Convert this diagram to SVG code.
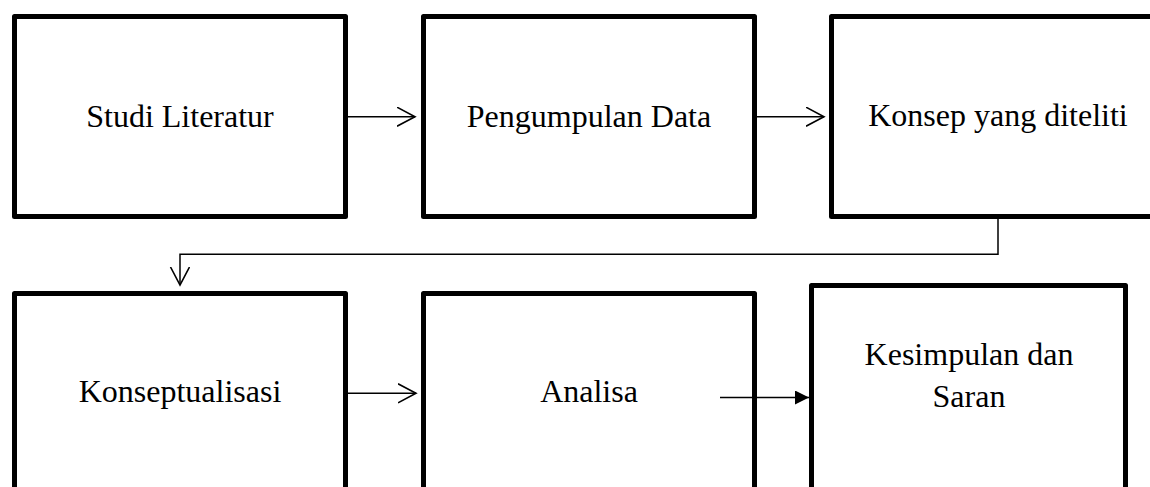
<svg xmlns="http://www.w3.org/2000/svg" width="1150" height="487" viewBox="0 0 1150 487">
  <style>
    .box { fill: #fff; stroke: #000; stroke-width: 5; stroke-linejoin: round; }
    .lbl { font-family: "Liberation Serif", "Times New Roman", serif; font-size: 32px; fill: #000; text-anchor: middle; }
    .conn { fill: none; stroke: #000; stroke-width: 1.5; }
  </style>
  <defs>
    <marker id="open" markerUnits="userSpaceOnUse" markerWidth="22" markerHeight="22" refX="18" refY="10" orient="auto" viewBox="0 0 22 22">
      <path d="M0,0.5 L18,10 L0,19.5" fill="none" stroke="#000" stroke-width="1.6"/>
    </marker>
    <marker id="solid" markerUnits="userSpaceOnUse" markerWidth="16" markerHeight="16" refX="14" refY="7" orient="auto" viewBox="0 0 16 16">
      <path d="M0,0 L14,7 L0,14 Z" fill="#000"/>
    </marker>
  </defs>
  <rect width="1150" height="487" fill="#fff"/>

  <g id="node-studi-literatur">
    <rect class="box" x="14.5" y="16.5" width="331" height="200"/>
    <text class="lbl" x="180" y="126.5">Studi Literatur</text>
  </g>
  <g id="node-pengumpulan-data">
    <rect class="box" x="423.5" y="16.5" width="331" height="200"/>
    <text class="lbl" x="589" y="126.5">Pengumpulan Data</text>
  </g>
  <g id="node-konsep">
    <rect class="box" x="831.5" y="16.5" width="400" height="200"/>
    <text class="lbl" x="998" y="125.5">Konsep yang diteliti</text>
  </g>
  <g id="node-konseptualisasi">
    <rect class="box" x="14.5" y="293.5" width="331" height="250"/>
    <text class="lbl" x="180" y="402">Konseptualisasi</text>
  </g>
  <g id="node-analisa">
    <rect class="box" x="423.5" y="293.5" width="331" height="250"/>
    <text class="lbl" x="589" y="402">Analisa</text>
  </g>
  <g id="node-kesimpulan">
    <rect class="box" x="811.5" y="285.5" width="314" height="250"/>
    <text class="lbl" x="969" y="365">Kesimpulan dan</text>
    <text class="lbl" x="969" y="406.5">Saran</text>
  </g>

  <g id="connectors">
    <path class="conn" d="M348,116.7 L415,116.7" marker-end="url(#open)"/>
    <path class="conn" d="M757,116.7 L824,116.7" marker-end="url(#open)"/>
    <path class="conn" d="M998,219 L998,254.3 L180,254.3 L180,285" marker-end="url(#open)"/>
    <path class="conn" d="M348,393.3 L416,393.3" marker-end="url(#open)"/>
    <path class="conn" d="M720,397.5 L809,397.5" marker-end="url(#solid)"/>
  </g>
</svg>
